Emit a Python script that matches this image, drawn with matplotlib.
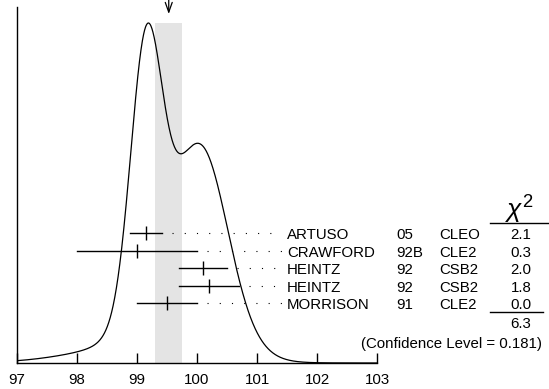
import numpy as np
import matplotlib
matplotlib.use('Agg')
import matplotlib.pyplot as plt
from matplotlib.lines import Line2D

# ---- data ----
authors = ['ARTUSO', 'CRAWFORD', 'HEINTZ', 'HEINTZ', 'MORRISON']
years = ['05', '92B', '92', '92', '91']
experiments = ['CLEO', 'CLE2', 'CSB2', 'CSB2', 'CLE2']
values = [99.15, 99.0, 100.1, 100.2, 99.5]
errors = [0.26, 1.0, 0.4, 0.5, 0.5]
chi2_labels = ['2.1', '0.3', '2.0', '1.8', '0.0']
chi2_total = '6.3'
confidence_level = '0.181'
xticks = [97, 98, 99, 100, 101, 102, 103]

plt.rcParams['font.family'] = ['Liberation Sans', 'DejaVu Sans']
plt.rcParams['mathtext.fontset'] = 'custom'
plt.rcParams['mathtext.rm'] = 'Liberation Sans'
plt.rcParams['mathtext.it'] = 'Liberation Sans:italic'

W, H = 549, 389
fig = plt.figure(figsize=(W / 100, H / 100), dpi=100)
AX_L, AX_R, AX_B, AX_T = 17, 377, 363, 7
ax = fig.add_axes([AX_L / W, 1 - AX_B / H, (AX_R - AX_L) / W, (AX_B - AX_T) / H])

v = np.array(values)
e = np.array(errors)
x = np.linspace(xticks[0], xticks[-1], 1500)
ideo = np.zeros_like(x)
for m, s in zip(v, e):
    ideo += (1 / s) * np.exp(-0.5 * ((x - m) / s) ** 2) / (s * np.sqrt(2 * np.pi))

w = 1 / e ** 2
mean = np.sum(w * v) / np.sum(w)
err = 1 / np.sqrt(np.sum(w))
chi2 = np.sum(w * (v - mean) ** 2)
err_s = err * max(1.0, np.sqrt(chi2 / (len(v) - 1)))

ymax = ideo.max()
ax.set_xlim(xticks[0], xticks[-1])
ax.set_ylim(0, ymax * (AX_B - AX_T) / (AX_B - 23))

# band
ax.fill_between([mean - err_s, mean + err_s], 0, ymax, color='#e4e4e4', lw=0, zorder=0)
# ideogram
ax.plot(x, ideo, color='black', lw=0.9, zorder=3)

# arrow at the mean
ax.annotate('', xy=(mean, (AX_B - 14) / (AX_B - AX_T)), xytext=(mean, (AX_B + 1) / (AX_B - AX_T)),
            xycoords=ax.get_xaxis_transform(), textcoords=ax.get_xaxis_transform(),
            arrowprops=dict(arrowstyle='->,head_length=0.7,head_width=0.25', color='black', lw=0.9,
                            shrinkA=0, shrinkB=0), annotation_clip=False)

trans = ax.get_xaxis_transform()
row0, drow = 233.3, 17.5
for i, (m, s) in enumerate(zip(values, errors)):
    ypx = row0 + i * drow
    yf = (AX_B - ypx) / (AX_B - AX_T)
    ax.plot([m - s, m + s], [yf, yf], color='black', lw=1.0, transform=trans, zorder=4)
    ax.plot([m], [yf], marker='|', ms=9.5, mew=1.0, color='black', transform=trans, zorder=4)
    ax.plot([m + s + 0.17, 101.42], [yf, yf], color='black', lw=0.8, ls=(0, (1, 10)),
            transform=trans, clip_on=False, zorder=4)
    yb = 1 - (ypx + 6) / H
    fig.text(287 / W, yb, authors[i], ha='left', va='baseline', fontsize=10.8)
    fig.text(396 / W, yb, years[i], ha='left', va='baseline', fontsize=10.8)
    fig.text(439 / W, yb, experiments[i], ha='left', va='baseline', fontsize=10.8)
    fig.text(521 / W, yb, chi2_labels[i], ha='center', va='baseline', fontsize=10.8)

fig.text(519 / W, 1 - 219 / H, r'$\chi^2$', ha='center', va='baseline', fontsize=19)
fig.add_artist(Line2D([490 / W, 549 / W], [1 - 223 / H] * 2, color='black', lw=1.0))
fig.add_artist(Line2D([490 / W, 543 / W], [1 - 311.7 / H] * 2, color='black', lw=1.0))
fig.text(521 / W, 1 - 328 / H, chi2_total, ha='center', va='baseline', fontsize=10.8)
fig.text(542 / W, 1 - 348 / H, '(Confidence Level = ' + confidence_level + ')',
         ha='right', va='baseline', fontsize=10.8)

for sp in ['top', 'right']:
    ax.spines[sp].set_visible(False)
ax.spines['left'].set_linewidth(1.0)
ax.spines['bottom'].set_linewidth(1.0)
ax.set_yticks([])
ax.set_xticks(xticks)
ax.set_xticklabels([str(t) for t in xticks])
ax.tick_params(axis='x', direction='in', length=7.2, width=1.0, pad=7, labelsize=10.8)
ax.patch.set_alpha(0)

fig.savefig('out.png', dpi=100)
